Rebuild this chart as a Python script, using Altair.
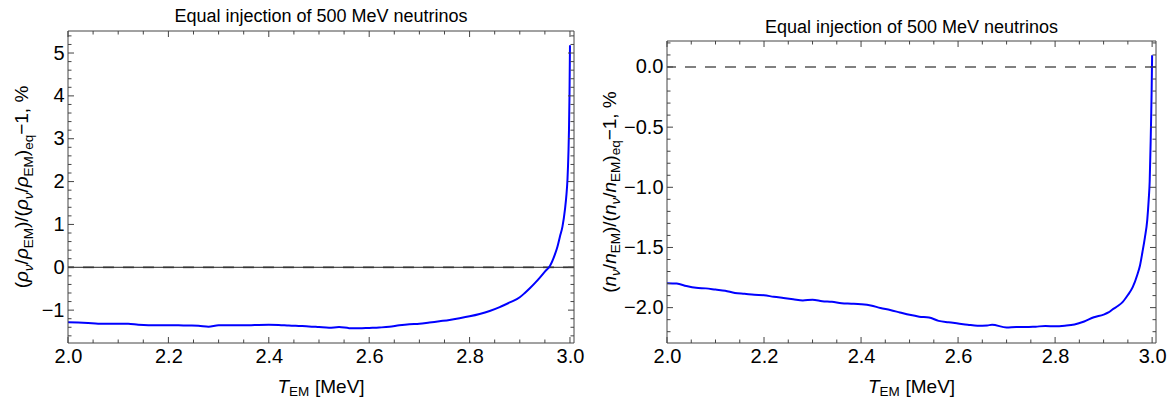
import altair as alt
import pandas as pd

# ---------------- data ----------------
T_rho = [2.00, 2.02, 2.04, 2.06, 2.08, 2.10, 2.12, 2.14, 2.16, 2.18, 2.20, 2.22, 2.24, 2.26, 2.28,
         2.30, 2.32, 2.34, 2.36, 2.38, 2.40, 2.42, 2.44, 2.46, 2.48, 2.50, 2.52, 2.54, 2.56, 2.58,
         2.60, 2.62, 2.64, 2.66, 2.68, 2.70, 2.72, 2.74, 2.76, 2.78, 2.80, 2.82, 2.84, 2.86, 2.88,
         2.90, 2.91, 2.92, 2.93, 2.94, 2.95, 2.96, 2.97, 2.975, 2.98, 2.985, 2.99, 2.993, 2.995,
         2.997, 2.998, 2.999, 3.000]
V_rho = [-1.285, -1.29, -1.30, -1.315, -1.315, -1.315, -1.315, -1.34, -1.35, -1.35, -1.35, -1.355,
         -1.36, -1.365, -1.385, -1.355, -1.355, -1.355, -1.355, -1.345, -1.34, -1.345, -1.36, -1.37,
         -1.38, -1.395, -1.41, -1.395, -1.42, -1.425, -1.415, -1.405, -1.39, -1.355, -1.33, -1.32,
         -1.29, -1.26, -1.23, -1.19, -1.145, -1.09, -1.02, -0.93, -0.82, -0.70, -0.60, -0.49, -0.37,
         -0.24, -0.10, 0.03, 0.30, 0.48, 0.72, 0.95, 1.35, 1.70, 2.05, 2.70, 3.20, 4.00, 5.18]

T_n = [2.00, 2.02, 2.04, 2.06, 2.08, 2.10, 2.12, 2.14, 2.16, 2.18, 2.20, 2.22, 2.24, 2.26, 2.28,
       2.30, 2.32, 2.34, 2.36, 2.38, 2.40, 2.42, 2.44, 2.46, 2.48, 2.50, 2.52, 2.54, 2.56, 2.58,
       2.60, 2.62, 2.64, 2.66, 2.67, 2.70, 2.72, 2.74, 2.76, 2.78, 2.80, 2.82, 2.84, 2.86, 2.88,
       2.90, 2.91, 2.92, 2.93, 2.94, 2.95, 2.96, 2.97, 2.975, 2.98, 2.985, 2.99, 2.993, 2.995,
       2.997, 2.998, 2.999, 3.000]
V_n = [-1.797, -1.80, -1.82, -1.835, -1.84, -1.85, -1.86, -1.878, -1.885, -1.893, -1.897, -1.91,
       -1.92, -1.93, -1.94, -1.935, -1.947, -1.952, -1.963, -1.967, -1.972, -1.982, -2.003, -2.02,
       -2.04, -2.06, -2.075, -2.082, -2.11, -2.122, -2.132, -2.142, -2.15, -2.148, -2.143, -2.165,
       -2.162, -2.162, -2.158, -2.153, -2.155, -2.15, -2.14, -2.115, -2.08, -2.058, -2.04, -2.01,
       -1.985, -1.95, -1.895, -1.83, -1.72, -1.65, -1.54, -1.42, -1.27, -1.10, -0.95, -0.62,
       -0.42, -0.20, 0.097]

X_MAJOR = [2.0, 2.2, 2.4, 2.6, 2.8, 3.0]
X_MINOR = [2.05, 2.1, 2.15, 2.25, 2.3, 2.35, 2.45, 2.5, 2.55, 2.65, 2.7, 2.75, 2.85, 2.9, 2.95]
Y_MAJOR_RHO = [-1, 0, 1, 2, 3, 4, 5]
Y_MINOR_RHO = [-1.6, -1.4, -1.2, -0.8, -0.6, -0.4, -0.2, 0.2, 0.4, 0.6, 0.8, 1.2, 1.4, 1.6, 1.8,
               2.2, 2.4, 2.6, 2.8, 3.2, 3.4, 3.6, 3.8, 4.2, 4.4, 4.6, 4.8, 5.2, 5.4]
Y_MAJOR_N = [-2.0, -1.5, -1.0, -0.5, 0.0]
Y_MINOR_N = [-2.2, -2.1, -1.9, -1.8, -1.7, -1.6, -1.4, -1.3, -1.2, -1.1, -0.9, -0.8, -0.7, -0.6,
             -0.4, -0.3, -0.2, -0.1, 0.1, 0.2]

TITLE = "Equal injection of 500 MeV neutrinos"

FONT = "Liberation Sans"
BLUE = "#0000ff"
FRAME = "#444444"

# Arial / Liberation Sans advance widths (per 1000 em)
WID = {'(': 333, ')': 333, '/': 278, 'ρ': 570, 'ν': 500, 'n': 556, 'E': 667, 'M': 833,
       'e': 556, 'q': 556, '−': 584, '1': 556, ',': 278, ' ': 278, '%': 889,
       'T': 611, '[': 278, ']': 278, 'V': 667}


def text_width(s, size):
    return sum(WID.get(c, 556) for c in s) * size / 1000.0


MAIN = 19
SUB = 13.5
TICK = 20
one = pd.DataFrame({"a": [0]})


def ylabel_layers(sym, x_base, y_center):
    pieces = [("(", "n"), (sym, "i"), ("ν", "si"), ("/", "n"), (sym, "i"), ("EM", "s"),
              (")/(", "n"), (sym, "i"), ("ν", "si"), ("/", "n"), (sym, "i"), ("EM", "s"),
              (")", "n"), ("eq", "s"), ("−1, %", "n")]
    widths = [text_width(t, SUB if k.startswith("s") else MAIN) for t, k in pieces]
    total = sum(widths)
    y = y_center + total / 2.0
    layers = []
    for (t, k), w in zip(pieces, widths):
        sub = k.startswith("s")
        layers.append(
            alt.Chart(one).mark_text(
                angle=270, align="left", baseline="alphabetic", font=FONT,
                fontSize=SUB if sub else MAIN,
                fontStyle="italic" if k in ("i", "si") else "normal", color="black"
            ).encode(x=alt.value(x_base + (4.5 if sub else 0)), y=alt.value(y), text=alt.value(t))
        )
        y -= w
    return layers


def xlabel_layers(x_center, y_base):
    # (text, kind, extra gap after the piece)
    pieces = [("T", "i", 0.0), ("EM", "s", MAIN * 0.30), ("[MeV]", "n", 0.0)]
    widths = [text_width(t, SUB if k.startswith("s") else MAIN) + g for t, k, g in pieces]
    x = x_center - sum(widths) / 2.0
    layers = []
    for (t, k, g), w in zip(pieces, widths):
        sub = k.startswith("s")
        layers.append(
            alt.Chart(one).mark_text(
                align="left", baseline="alphabetic", font=FONT,
                fontSize=SUB if sub else MAIN,
                fontStyle="italic" if k == "i" else "normal", color="black"
            ).encode(x=alt.value(x), y=alt.value(y_base + (3.5 if sub else 0)), text=alt.value(t))
        )
        x += w
    return layers


def panel(T, V, ydom, ymaj, ymin, yfmt, W, H, top, sym, ylab_x, solid_zero, title_y):
    xs = alt.Scale(domain=[2.0, 3.008], nice=False, zero=False)
    ys = alt.Scale(domain=ydom, nice=False, zero=False, range=[H, top])
    xaxis = alt.Axis(values=X_MAJOR, format=".1f", ticks=False, domain=False, grid=False,
                     labelFont=FONT, labelFontSize=TICK, labelColor="black", labelPadding=3,
                     title=None, labelFlush=False, labelOverlap=False)
    yaxis = alt.Axis(values=ymaj, format=yfmt, ticks=False, domain=False, grid=False,
                     labelFont=FONT, labelFontSize=TICK, labelColor="black", labelPadding=4,
                     title=None, labelFlush=False, labelOverlap=False)
    df = pd.DataFrame({"T": T, "V": V})
    layers = []

    zero = pd.DataFrame({"z": [0.0]})
    layers.append(alt.Chart(zero).mark_rule(color="#808080", strokeWidth=2, strokeDash=[11, 9]).encode(
        y=alt.Y("z:Q", scale=ys, axis=yaxis)))
    if solid_zero:
        layers.append(alt.Chart(zero).mark_rule(color="#222222", strokeWidth=1).encode(
            y=alt.Y("z:Q", scale=ys, axis=yaxis)))

    line = alt.Chart(df).mark_line(color=BLUE, strokeWidth=2, interpolate="monotone", clip=True).encode(
        x=alt.X("T:Q", scale=xs, axis=xaxis),
        y=alt.Y("V:Q", scale=ys, axis=yaxis),
    )
    layers.append(line)

    # frame
    layers.append(alt.Chart(one).mark_rect(filled=False, stroke=FRAME, strokeWidth=1).encode(
        x=alt.value(0), x2=alt.value(W), y=alt.value(top), y2=alt.value(H)))

    # frame ticks (inward), positioned through the scales
    for vals, ln in ((X_MAJOR, 6), (X_MINOR, 3.5)):
        d = pd.DataFrame({"t": vals})
        layers.append(alt.Chart(d).mark_rule(color=FRAME, strokeWidth=1).encode(
            x=alt.X("t:Q", scale=xs, axis=xaxis), y=alt.value(H), y2=alt.value(H - ln)))
        layers.append(alt.Chart(d).mark_rule(color=FRAME, strokeWidth=1).encode(
            x=alt.X("t:Q", scale=xs, axis=xaxis), y=alt.value(top), y2=alt.value(top + ln)))
    for vals, ln in ((ymaj, 6), (ymin, 3.5)):
        d = pd.DataFrame({"t": vals})
        layers.append(alt.Chart(d).mark_rule(color=FRAME, strokeWidth=1).encode(
            y=alt.Y("t:Q", scale=ys, axis=yaxis), x=alt.value(0), x2=alt.value(ln)))
        layers.append(alt.Chart(d).mark_rule(color=FRAME, strokeWidth=1).encode(
            y=alt.Y("t:Q", scale=ys, axis=yaxis), x=alt.value(W), x2=alt.value(W - ln)))

    # title
    layers.append(alt.Chart(one).mark_text(align="center", baseline="alphabetic", font=FONT,
                                           fontSize=18, color="black").encode(
        x=alt.value(W / 2.0), y=alt.value(title_y), text=alt.value(TITLE)))

    layers += ylabel_layers(sym, ylab_x, (H + top) / 2.0)
    layers += xlabel_layers(W / 2.0, H + 49.5)

    return alt.layer(*layers).properties(width=W, height=H)


left = panel(T_rho, V_rho, [-1.767, 5.514], Y_MAJOR_RHO, Y_MINOR_RHO, "d", 506, 312, 0, "ρ",
             -40, True, -9)
right = panel(T_n, V_n, [-2.294, 0.216], Y_MAJOR_N, Y_MINOR_N, ".1f", 489, 312, 10, "n",
              -51.5, False, 2.3)

chart = alt.hconcat(left, right, spacing=93, bounds="flush").properties(
    padding={"left": 12, "top": 8, "right": 0, "bottom": 0},
).configure_view(stroke=None).resolve_scale(x="independent", y="independent")

chart.save("out.html", embed_options={"renderer": "svg", "actions": False})
